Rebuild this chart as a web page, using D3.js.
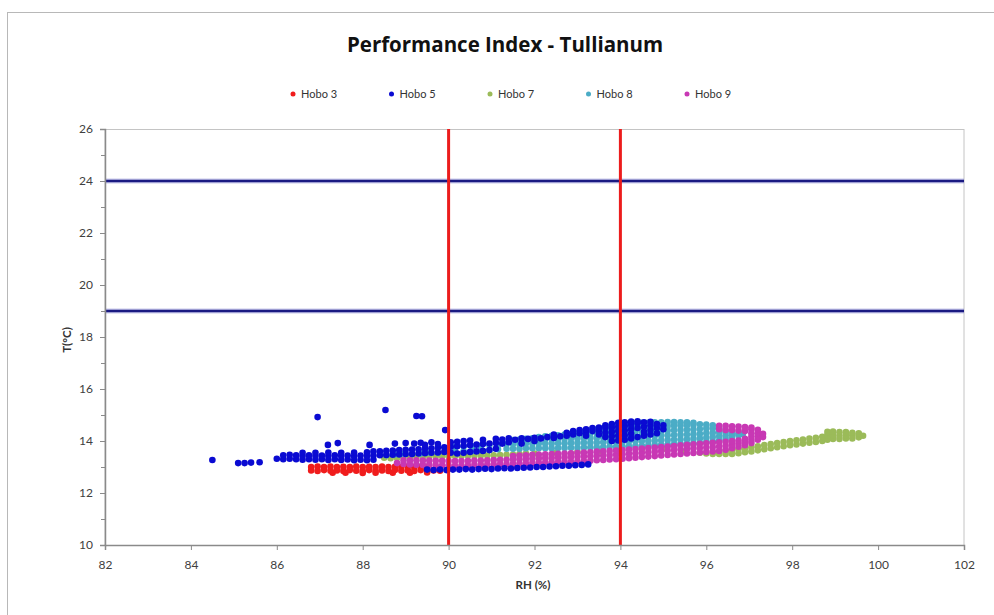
<!DOCTYPE html>
<html><head><meta charset="utf-8">
<script src="https://cdn.jsdelivr.net/npm/d3@7"></script>
<style>body{margin:0;background:#fff}svg{display:block}text{font-family:Lato,"Open Sans",sans-serif}</style>
</head><body><svg id="c" width="994" height="615"></svg>
<script>
const title = "Performance Index - Tullianum";
const xLabel = "RH (%)";
const yLabel = "T(°C)";
const xTicks = [82,84,86,88,90,92,94,96,98,100,102];
const yTicks = [10,12,14,16,18,20,22,24,26];
const yMinorTicks = [11,13,15,17,19,21,23,25];
const seriesNames = ["Hobo 3","Hobo 5","Hobo 7","Hobo 8","Hobo 9"];
const seriesColors = ["#f01c1c","#0a0ad2","#9bbb59","#4bacc6","#c838b4"];
const tLimits = [24,19];
const rhLimits = [90,94];

// Each row: [RH, T, T, ...]
const hobo3 = [
[86.8,13.0,12.87],[86.95,13.02,12.85],[87.1,13.0,12.88],[87.25,13.02,12.86],[87.3,12.78],[87.4,13.0,12.87],
[87.55,13.01,12.85],[87.6,12.78],[87.7,13.0,12.88],[87.85,13.02,12.86],[88.0,13.0,12.85,12.77],[88.15,13.01,12.88],
[88.3,13.0,12.86,12.78],[88.45,13.02,12.87],[88.6,13.0,12.85],[88.7,12.78],[88.75,13.01,12.88],[88.9,13.0,12.86],
[89.05,13.02,12.87],[89.1,12.78],[89.2,13.0,12.85],[89.35,13.01,12.88],[89.5,13.0,12.86,12.79],[89.65,12.87],[89.8,12.86]
];
const hobo5 = [
[84.5,13.27],[85.1,13.15],[85.25,13.15],[85.4,13.17],[85.6,13.18],[86.95,14.92],[88.53,15.19],[89.25,14.96],[89.38,14.95],[89.92,14.42],
[87.19,13.85],[87.42,13.92],[88.16,13.85],[88.75,13.9],[89.0,13.92],[89.2,13.9],[89.35,13.93],[89.6,13.95],
[86.0,13.32],[86.15,13.3,13.45],[86.3,13.32,13.47],[86.45,13.3,13.45],[86.6,13.28,13.42,13.55],[86.75,13.3,13.45],
[86.9,13.28,13.42,13.55],[87.05,13.3,13.44],[87.2,13.27,13.42,13.56],[87.35,13.3,13.45],[87.5,13.27,13.42,13.55],
[87.65,13.29,13.44],[87.8,13.26,13.41,13.56],[87.95,13.28,13.44],[88.1,13.26,13.42,13.57],[88.25,13.28,13.44,13.6],
[88.4,13.45,13.6],[88.55,13.46,13.62],[88.7,13.47,13.63],[88.85,13.48,13.65],[89.0,13.5,13.66],[89.15,13.5,13.67],
[89.3,13.52,13.68],[89.45,13.53,13.7,13.85],[89.6,13.55,13.72],[89.75,13.56,13.74,13.88],[89.9,13.58,13.76],
[90.05,13.55,13.78,13.95],[90.2,13.52,13.8,13.97],[90.35,13.55,13.82,14.0],[90.5,13.58,13.84,14.02],[90.65,13.6,13.86],
[90.8,13.62,13.88,14.05],[90.95,13.65,13.9],[91.1,13.7,13.92,14.08],[91.25,13.9,14.06],[91.4,13.95,14.1],[91.55,14.05],
[91.7,14.1,13.9],[91.85,14.08],[92.0,14.12,14.0],[92.15,14.1],[92.3,14.15],[92.45,14.12,14.25],[92.6,14.18],
[92.75,14.2,14.32],[92.9,14.25,14.38],[93.05,14.3,14.42],[93.2,14.35,14.45,14.2],[93.35,14.38,14.5],[93.5,14.4,14.52,14.25],
[93.65,14.15,14.32,14.5,14.6],[93.8,14.0,14.18,14.35,14.52,14.65],[93.95,14.02,14.2,14.38,14.55,14.7],
[94.1,14.05,14.22,14.4,14.58,14.72],[94.25,14.1,14.28,14.45,14.62,14.75],[94.4,14.15,14.5,14.68,14.76],
[94.55,14.2,14.35,14.55,14.72],[94.7,14.25,14.42,14.6,14.74],[94.85,14.3,14.5,14.65],[95.0,14.45,14.6],
[89.5,12.9],[89.65,12.88],[89.8,12.9],[89.95,12.88],[90.1,12.9],[90.25,12.9],[90.4,12.92],[90.55,12.9],[90.7,12.92],
[90.85,12.93],[91.0,12.92],[91.15,12.94],[91.3,12.95],[91.45,12.94],[91.6,12.96],[91.75,12.97],[91.9,12.98],
[92.05,13.0],[92.2,13.0],[92.35,13.02],[92.5,13.03],[92.65,13.05],[92.8,13.05],[92.95,13.07],[93.1,13.08],[93.25,13.1]
];
const hobo7 = [
[88.5,13.36],[88.65,13.34],[88.8,13.35],[88.95,13.37],[89.1,13.38],[89.25,13.38],[89.4,13.39],[89.55,13.4],[89.7,13.4],
[89.85,13.41],[90.0,13.41],[90.15,13.42],[90.3,13.42],[90.45,13.43],[90.6,13.43],[90.75,13.44],[90.9,13.44],[91.05,13.45],
[91.2,13.46],[91.35,13.47],[91.5,13.48],[91.65,13.5],[91.8,13.52],[92.0,13.52],[92.5,13.55],[93.0,13.58],[93.5,13.6],
[94.0,13.65],[94.5,13.68],[95.0,13.7],[95.5,13.6],[95.85,13.55],[96.0,13.52],[96.15,13.5],[96.3,13.5],[96.45,13.5,13.62],
[96.6,13.5,13.65],[96.75,13.53,13.68],[96.9,13.57,13.72],[97.05,13.6,13.76],[97.2,13.64,13.8],[97.35,13.68,13.84],
[97.5,13.72,13.88],[97.65,13.76,13.92],[97.8,13.8,13.96],[97.95,13.84,14.0],[98.1,13.87,14.03],[98.25,13.9,14.06],
[98.4,13.93,14.09],[98.55,13.96,14.12],[98.7,14.0,14.16],[98.82,14.05,14.22,14.35],[98.95,14.08,14.22,14.36],
[99.1,14.08,14.2,14.34],[99.25,14.1,14.22,14.34],[99.4,14.1,14.22,14.32],[99.55,14.14,14.24,14.3],[99.65,14.2]
];
const hobo8 = [
[88.55,13.45],[88.75,13.48],[88.95,13.5],[89.15,13.5],[89.35,13.52],[89.55,13.55],[89.75,13.55],[89.95,13.58],
[90.15,13.6,13.78],[90.35,13.6,13.8],[90.55,13.62,13.8],[90.75,13.65,13.82],[90.95,13.65,13.85],[91.15,13.68,13.86],
[91.35,13.7,13.88],[91.5,13.7,13.88,14.04],[91.65,13.7,13.88,14.06],[91.8,13.72,13.9,14.08],[91.95,13.72,13.9,14.1],
[92.1,13.72,13.9,14.08,14.15],[92.25,13.72,13.9,14.08,14.18],[92.4,13.72,13.9,14.08,14.2],[92.55,13.73,13.91,14.09,14.22],
[92.7,13.73,13.91,14.09,14.25],[92.85,13.74,13.92,14.1,14.28],[93.0,13.74,13.92,14.1,14.3],
[93.15,13.75,13.93,14.11,14.29,14.35],[93.3,13.75,13.93,14.11,14.29,14.4],[93.45,13.76,13.94,14.12,14.3,14.44],
[93.6,13.77,13.95,14.13,14.31,14.49],[93.75,13.78,13.96,14.14,14.32,14.5,14.55],[93.9,13.78,13.96,14.14,14.32,14.5,14.6],
[94.05,13.79,13.97,14.15,14.33,14.51,14.65],[94.2,13.8,13.98,14.16,14.34,14.52,14.67],[94.35,13.81,13.99,14.17,14.35,14.53,14.68],
[94.5,13.82,14.0,14.18,14.36,14.54,14.7],[94.65,13.83,14.0,14.18,14.36,14.54,14.7],[94.8,13.84,14.02,14.2,14.38,14.56,14.72],
[94.95,13.85,14.03,14.21,14.39,14.57,14.72],[95.1,13.86,14.04,14.22,14.4,14.58,14.73],[95.25,13.87,14.05,14.23,14.41,14.59,14.73],
[95.4,13.88,14.06,14.24,14.42,14.6,14.72],[95.55,13.89,14.07,14.25,14.43,14.61,14.72],[95.7,13.9,14.08,14.26,14.44,14.62,14.7],
[95.85,13.92,14.1,14.28,14.46,14.64],[96.0,13.95,14.12,14.3,14.48,14.63],[96.15,13.98,14.15,14.32,14.48,14.6],
[96.3,14.02,14.18,14.34,14.48],[96.45,14.08,14.22,14.36],[96.6,14.15,14.28],[96.75,14.22,14.3],[96.85,14.26]
];
const hobo9 = [
[88.8,13.15],[88.95,13.12,13.26],[89.1,13.1,13.26],[89.25,13.09,13.26],[89.4,13.08,13.25],[89.55,13.08,13.25],
[89.7,13.07,13.24],[89.85,13.07,13.24],[90.0,13.06,13.23],[90.15,13.06,13.23],[90.3,13.06,13.23],[90.45,13.07,13.24],
[90.6,13.08,13.25],[90.75,13.08,13.25],[90.9,13.09,13.26],[91.05,13.1,13.27],[91.2,13.11,13.28],[91.35,13.11,13.28],
[91.5,13.12,13.29,13.42],[91.65,13.13,13.3,13.44],[91.8,13.14,13.31,13.45],[91.95,13.15,13.32,13.47],[92.1,13.16,13.33,13.48],
[92.25,13.17,13.34,13.49],[92.4,13.18,13.35,13.5],[92.55,13.19,13.36,13.51],[92.7,13.2,13.37,13.52],[92.85,13.21,13.38,13.53],
[93.0,13.22,13.39,13.54],[93.15,13.23,13.4,13.56],[93.3,13.24,13.41,13.57],[93.45,13.26,13.43,13.59],[93.6,13.27,13.44,13.6],
[93.75,13.29,13.46,13.62],[93.9,13.3,13.47,13.63],[94.05,13.32,13.49,13.65],[94.2,13.34,13.51,13.67],[94.35,13.36,13.53,13.69],
[94.5,13.38,13.55,13.71],[94.65,13.4,13.57,13.73],[94.8,13.42,13.59,13.75],[94.95,13.44,13.61,13.77],[95.1,13.46,13.63,13.79],
[95.25,13.48,13.65,13.81],[95.4,13.5,13.67,13.83],[95.55,13.52,13.69,13.85],[95.7,13.54,13.71,13.87],[95.85,13.56,13.73,13.89],
[96.0,13.58,13.75,13.91],[96.15,13.6,13.77,13.93],[96.3,13.62,13.79,13.95,14.45,14.58],[96.45,13.66,13.82,13.97,14.42,14.58],
[96.6,13.72,13.86,14.0,14.42,14.57],[96.75,13.78,13.9,14.02,14.4,14.56],[96.9,13.84,13.96,14.08,14.38,14.54],
[97.05,13.92,14.04,14.16,14.3,14.44,14.52],[97.2,14.05,14.18,14.3,14.43],[97.32,14.15,14.28]
];
const seriesData = [hobo3, hobo5, hobo7, hobo8, hobo9];
const drawOrder = [0, 2, 3, 4, 1];

const svg = d3.select("#c");
const W = 994, H = 615;
const m = {left:105, right:964, top:129, bottom:545};
const x = d3.scaleLinear().domain([82,102]).range([m.left, m.right]);
const y = d3.scaleLinear().domain([10,26]).range([m.bottom, m.top]);

svg.append("rect").attr("width",W).attr("height",H).attr("fill","#fff");
svg.append("rect").attr("x",7.5).attr("y",12.5).attr("width",1000).attr("height",700)
  .attr("fill","none").attr("stroke","#b8b8b8").attr("stroke-width",1);

// plot border
svg.append("rect").attr("x",m.left).attr("y",m.top+0.5).attr("width",m.right-m.left).attr("height",m.bottom-m.top)
  .attr("fill","none").attr("stroke","#c4c4c4").attr("stroke-width",1);

// points
const pts = svg.append("g");
drawOrder.forEach(si => {
  const flat = [];
  seriesData[si].forEach(r => r.slice(1).forEach(t => flat.push([r[0], t])));
  pts.append("g").selectAll("circle").data(flat).join("circle")
    .attr("cx", d => x(d[0])).attr("cy", d => y(d[1])).attr("r", 3.3)
    .attr("fill", seriesColors[si]);
});

// limit lines
tLimits.forEach(t => {
  svg.append("line").attr("x1",x(82)).attr("x2",x(102)).attr("y1",y(t)).attr("y2",y(t))
    .attr("stroke","#8c8cd8").attr("stroke-width",5).attr("opacity",0.45);
  svg.append("line").attr("x1",x(82)).attr("x2",x(102)).attr("y1",y(t)).attr("y2",y(t))
    .attr("stroke","#1a1a82").attr("stroke-width",2.6);
});
rhLimits.forEach(v => {
  svg.append("line").attr("x1",x(v)).attr("x2",x(v)).attr("y1",y(26)).attr("y2",y(10))
    .attr("stroke","#ec1c1c").attr("stroke-width",3);
});

// axes
const axCol = "#8a8a8a", txtCol = "#404040";
const xa = svg.append("g").attr("transform",`translate(0,${m.bottom})`)
  .call(d3.axisBottom(x).tickValues(xTicks).tickSize(5).tickPadding(10).tickFormat(d3.format("d")));
const ya = svg.append("g").attr("transform",`translate(${m.left},0)`)
  .call(d3.axisLeft(y).tickValues(yTicks).tickSize(5).tickPadding(7).tickFormat(d3.format("d")));
svg.append("g").attr("transform",`translate(${m.left},0)`)
  .call(d3.axisLeft(y).tickValues(yMinorTicks).tickSize(4).tickFormat(""))
  .call(g => g.select(".domain").remove());
svg.selectAll(".domain").attr("stroke",axCol).attr("stroke-width",1.5);
svg.selectAll(".tick line").attr("stroke",axCol);
svg.selectAll(".tick text").attr("fill",txtCol).style("font-size","12px").style("font-family","Lato, sans-serif");

// titles
svg.append("text").attr("x",505).attr("y",52).attr("text-anchor","middle")
  .style("font-size","20.5px").style("font-weight","bold").style("font-family","'Open Sans', sans-serif")
  .attr("fill","#111").text(title);
svg.append("text").attr("x",533).attr("y",589).attr("text-anchor","middle")
  .style("font-size","11.5px").style("font-weight","bold").attr("fill","#333").text(xLabel);
svg.append("text").attr("transform","translate(71,340) rotate(-90)").attr("text-anchor","middle")
  .style("font-size","11.5px").style("font-weight","bold").attr("fill","#333").text(yLabel);

// legend
const lg = svg.append("g");
seriesNames.forEach((n,i) => {
  const lx = 293 + i*98.5;
  lg.append("circle").attr("cx",lx).attr("cy",94).attr("r",2.5).attr("fill",seriesColors[i]);
  lg.append("text").attr("x",lx+8).attr("y",98).style("font-size","11px").attr("fill","#333").text(n);
});
</script></body></html>
